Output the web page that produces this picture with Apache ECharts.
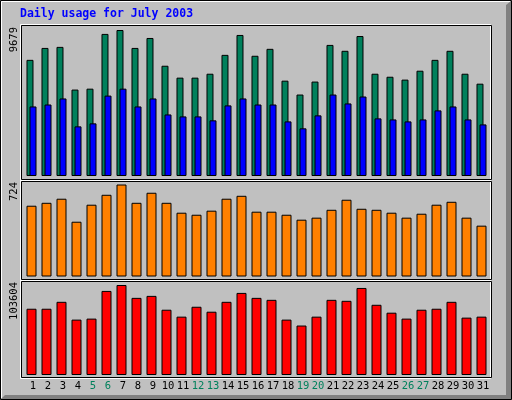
<!DOCTYPE html>
<html>
<head>
<meta charset="utf-8">
<title>Daily usage for July 2003</title>
<script src="https://cdn.jsdelivr.net/npm/echarts@6/dist/echarts.min.js"></script>
<style>
  html, body { margin: 0; padding: 0; background: #c0c0c0; }
  #usage { width: 512px; height: 400px; }
</style>
</head>
<body>
<div id="usage"></div>
<script>
// days of the month, weekends get the green label
var days = ['1','2','3','4','5','6','7','8','9','10','11','12','13','14','15','16',
            '17','18','19','20','21','22','23','24','25','26','27','28','29','30','31'];
var weekend = ['5','6','12','13','19','20','26','27'];

// values
var hits = [7700, 8490, 8560, 5730, 5790, 9420, 9679, 8490, 9150, 7310, 6520, 6520, 6780, 8030, 9350, 7970,
            8430, 6320, 5400, 6260, 8690, 8300, 9280, 6780, 6580, 6390, 6980, 7700, 8300, 6780, 6120];
var files = [4610, 4740, 5140, 3290, 3490, 5330, 5790, 4610, 5140, 4080, 3950, 3950, 3690, 4680, 5140, 4740,
             4740, 3620, 3160, 4020, 5400, 4810, 5270, 3820, 3750, 3620, 3750, 4350, 4610, 3750, 3420];
var visits = [557, 580, 612, 431, 565, 643, 724, 580, 659, 580, 502, 486, 518, 612, 635, 510,
              510, 486, 447, 463, 525, 604, 533, 525, 502, 463, 494, 565, 588, 463, 400];
var kbytes = [76280, 76280, 84250, 63760, 64900, 96770, 103604, 88800, 91080, 75140, 67170, 78560, 72860, 84250, 94500, 88800,
              86530, 63760, 56930, 67170, 86530, 85390, 100190, 80830, 71730, 64900, 75140, 76280, 84250, 66030, 67170];

// max value printed on the left of each panel
var maxLabels = ['9679', '724', '103604'];

var chart = echarts.init(document.getElementById('usage'));

function frame(top, bottom) {
  // white outline + black outline shifted one pixel, like the gd 3d box
  return [
    { type: 'rect', silent: true, shape: { x: 20.5, y: top + 0.5, width: 470, height: bottom - top },
      style: { fill: null, stroke: '#ffffff', lineWidth: 1 } },
    { type: 'rect', silent: true, shape: { x: 21.5, y: top + 1.5, width: 470, height: bottom - top - 2 },
      style: { fill: null, stroke: '#000000', lineWidth: 1 } }
  ];
}

function maxText(i, y) {
  return {
    type: 'text', silent: true, x: 14.5, y: y, rotation: Math.PI / 2,
    style: { text: maxLabels[i], fill: '#000', fontSize: 10.5, fontFamily: 'DejaVu Sans Mono',
             align: 'right', verticalAlign: 'middle' }
  };
}

var graphics = [
  // shadow on right and bottom
  { type: 'polygon', silent: true,
    shape: { points: [[511, 1], [511, 399], [1, 399], [5, 395], [506, 395], [506, 5]] },
    style: { fill: '#808080' } },
  { type: 'polyline', silent: true, shape: { points: [[1.5, 398], [1.5, 1.5], [510, 1.5]] },
    style: { stroke: '#ffffff', lineWidth: 1 } },
  { type: 'rect', silent: true, shape: { x: 0.5, y: 0.5, width: 511, height: 399 },
    style: { fill: null, stroke: '#000000', lineWidth: 1 } }
];
graphics = graphics.concat(frame(24, 180), frame(180, 280), frame(280, 378));
graphics.push(maxText(0, 27), maxText(1, 182), maxText(2, 282));

var barBorder = { borderColor: '#000000', borderWidth: 1 };

var option = {
  animation: false,
  backgroundColor: '#c0c0c0',
  title: {
    text: 'Daily usage for July 2003',
    left: 20, top: 8, padding: 0,
    textStyle: { color: '#0000ff', fontFamily: 'DejaVu Sans Mono', fontWeight: 'bold', fontSize: 11.5 }
  },
  graphic: graphics,
  grid: [
    { left: 24, width: 465, top: 30, height: 146 },
    { left: 24, width: 465, top: 184.5, height: 92 },
    { left: 24, width: 465, top: 285, height: 90 }
  ],
  xAxis: [0, 1, 2].map(function (i) {
    return {
      type: 'category', gridIndex: i, data: days,
      axisLine: { show: false }, axisTick: { show: false },
      axisLabel: {
        show: i === 2, interval: 0, margin: 6, padding: [0, 0, 0, 3],
        fontFamily: 'DejaVu Sans Mono', fontSize: 10.5,
        color: function (v) { return weekend.indexOf(v) >= 0 ? '#00805c' : '#000000'; }
      }
    };
  }),
  yAxis: [0, 1, 2].map(function (i) {
    return { type: 'value', gridIndex: i, min: 0, max: Number(maxLabels[i]), show: false, splitLine: { show: false } };
  }),
  series: [
    { name: 'Hits', type: 'bar', xAxisIndex: 0, yAxisIndex: 0, data: hits, barWidth: 7, barGap: '-57%',
      itemStyle: Object.assign({ color: '#00805c' }, barBorder) },
    { name: 'Files', type: 'bar', xAxisIndex: 0, yAxisIndex: 0, data: files, barWidth: 7, barGap: '-57%',
      itemStyle: Object.assign({ color: '#0000ff' }, barBorder) },
    { name: 'Visits', type: 'bar', xAxisIndex: 1, yAxisIndex: 1, data: visits, barWidth: 10,
      itemStyle: Object.assign({ color: '#ff8000' }, barBorder) },
    { name: 'KBytes', type: 'bar', xAxisIndex: 2, yAxisIndex: 2, data: kbytes, barWidth: 10,
      itemStyle: Object.assign({ color: '#ff0000' }, barBorder) }
  ]
};

chart.setOption(option);
</script>
</body>
</html>
